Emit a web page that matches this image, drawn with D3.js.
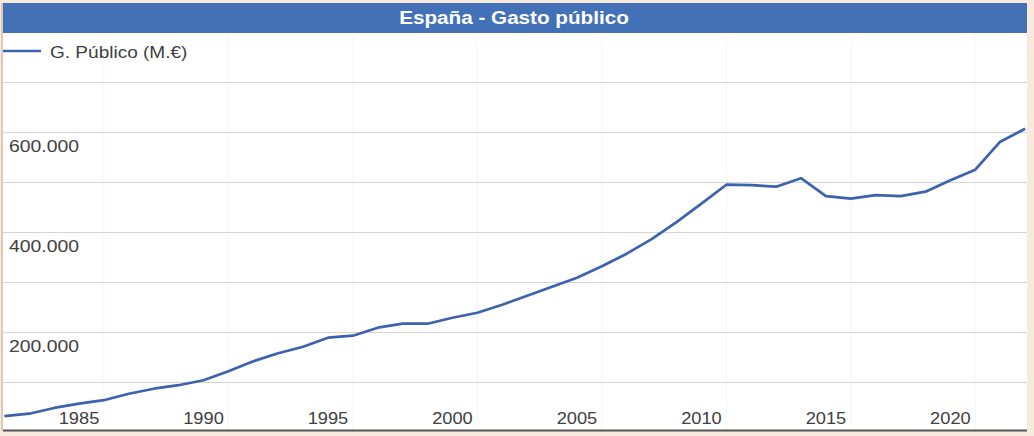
<!DOCTYPE html>
<html>
<head>
<meta charset="utf-8">
<script src="https://cdn.jsdelivr.net/npm/d3@7"></script>
<style>
  html, body { margin: 0; padding: 0; background: #f8ebdd; }
  svg { display: block; }
  text { font-family: "Liberation Sans", Arial, sans-serif; }
</style>
</head>
<body>
<svg id="chart" width="1034" height="436"></svg>
<script>
const title = "España - Gasto público";
const seriesName = "G. Público (M.€)";
const years = [1982,1983,1984,1985,1986,1987,1988,1989,1990,1991,1992,1993,1994,1995,1996,1997,1998,1999,2000,2001,2002,2003,2004,2005,2006,2007,2008,2009,2010,2011,2012,2013,2014,2015,2016,2017,2018,2019,2020,2021,2022,2023];
const gasto = [32000,37000,48500,57000,64000,77000,87000,94000,104000,122000,142000,158000,171000,189000,193000,209000,217000,217000,229000,239000,255000,273000,291000,309000,332000,357000,386000,420000,457000,495000,494000,491000,508000,472000,467000,474000,472000,481000,504000,525000,581000,607000];
const xTicks = [1985,1990,1995,2000,2005,2010,2015,2020];
const xGrid = [1986,1991,1996,2001,2006,2011,2016,2021];
const yGrid = [100000,200000,300000,400000,500000,600000,700000];
const yLabels = [200000,400000,600000];

const svg = d3.select("#chart");
const lineColor = "#3d62ae";
const sx = 1.12;

// panel
svg.append("rect").attr("x", 3).attr("y", 3).attr("width", 1024).attr("height", 428).attr("fill", "#ffffff");
svg.append("line").attr("x1", 2).attr("x2", 2).attr("y1", 3).attr("y2", 431).attr("stroke", "#d9bea4").attr("stroke-width", 1.5);

// title bar
svg.append("rect").attr("x", 3).attr("y", 3).attr("width", 1024).attr("height", 30).attr("fill", "#4371b8");
svg.append("text")
  .attr("transform", `translate(514,24) scale(1.1,1)`)
  .attr("text-anchor", "middle").attr("fill", "#ffffff")
  .attr("font-weight", "bold").attr("font-size", 18.8)
  .text(title);

const x = d3.scaleLinear().domain([1982, 2023]).range([4.3, 1025.1]);
const y = d3.scaleLinear().domain([0, 700000]).range([432.2, 82.2]);

// vertical faint grid
svg.append("g").selectAll("line").data(xGrid).join("line")
  .attr("x1", d => x(d)).attr("x2", d => x(d))
  .attr("y1", 36).attr("y2", 430)
  .attr("stroke", "#f5f5f5").attr("stroke-width", 1);

// horizontal grid
svg.append("g").selectAll("line").data(yGrid).join("line")
  .attr("x1", 3).attr("x2", 1027)
  .attr("y1", d => Math.round(y(d)) + 0.5).attr("y2", d => Math.round(y(d)) + 0.5)
  .attr("stroke", "#d4d4d4").attr("stroke-width", 1.2);

// y labels
const fmt = v => d3.format(",")(v).replace(/,/g, ".");
svg.append("g").selectAll("text").data(yLabels).join("text")
  .attr("transform", d => `translate(9,${y(d) + 19.5}) scale(1.19,1)`)
  .attr("font-size", 16.3).attr("fill", "#404040")
  .text(d => fmt(d));

// x labels
svg.append("g").selectAll("text").data(xTicks).join("text")
  .attr("transform", d => `translate(${x(d)},424) scale(${sx},1)`)
  .attr("text-anchor", "middle")
  .attr("font-size", 16.3).attr("fill", "#404040")
  .text(d => d);

// x axis line
svg.append("line").attr("x1", 3).attr("x2", 1027).attr("y1", 430.5).attr("y2", 430.5)
  .attr("stroke", "#555555").attr("stroke-width", 2);

// data line
const line = d3.line().x((d, i) => x(years[i])).y(d => y(d));
svg.append("path").datum(gasto)
  .attr("d", line)
  .attr("fill", "none").attr("stroke", lineColor)
  .attr("stroke-width", 2.7).attr("stroke-linejoin", "round");

// legend
svg.append("line").attr("x1", 3).attr("x2", 41).attr("y1", 51).attr("y2", 51)
  .attr("stroke", lineColor).attr("stroke-width", 2.6);
svg.append("text")
  .attr("transform", `translate(50,58) scale(${sx},1)`)
  .attr("font-size", 17).attr("fill", "#404040")
  .text(seriesName);
</script>
</body>
</html>
